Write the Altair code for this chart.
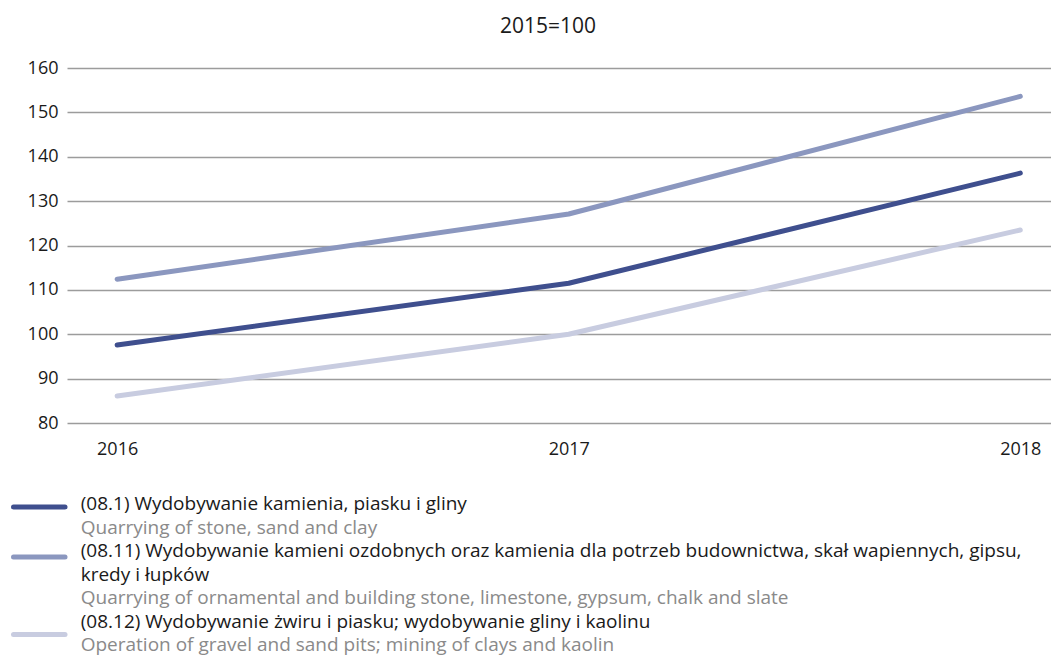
import altair as alt
import pandas as pd

years = [2016, 2017, 2018]
codes = ["08.1", "08.11", "08.12"]
series_values = {
    "08.1": [97.6, 111.5, 136.3],
    "08.11": [112.4, 127.1, 153.6],
    "08.12": [86.1, 100.0, 123.5],
}
labels_pl = [
    ["(08.1) Wydobywanie kamienia, piasku i gliny"],
    ["(08.11) Wydobywanie kamieni ozdobnych oraz kamienia dla potrzeb budownictwa, skał wapiennych, gipsu,",
     "kredy i łupków"],
    ["(08.12) Wydobywanie żwiru i piasku; wydobywanie gliny i kaolinu"],
]
labels_en = [
    "Quarrying of stone, sand and clay",
    "Quarrying of ornamental and building stone, limestone, gypsum, chalk and slate",
    "Operation of gravel and sand pits; mining of clays and kaolin",
]
colors = ["#3f4f8e", "#8b97bf", "#c8cce0"]
y_ticks = [80, 90, 100, 110, 120, 130, 140, 150, 160]
title_text = "2015=100"

FONT = "Open Sans"
BLACK = "#1a1a1a"
GREY = "#8a8a8a"

rows = []
for code in codes:
    for yr, v in zip(years, series_values[code]):
        rows.append({"code": code, "year": yr, "value": v})
df = pd.DataFrame(rows)

color_scale = alt.Scale(domain=codes, range=colors)

PLOT_W = 984
PLOT_H = 355

main = alt.Chart(df).mark_line(strokeWidth=5, strokeCap="round", strokeJoin="round").encode(
    x=alt.X("year:Q", scale=alt.Scale(domain=[2015.889, 2018.068], nice=False, zero=False),
            axis=alt.Axis(title=None, values=years, format="d", labelAngle=0, domain=False,
                          ticks=False, grid=False, labelFontSize=18, labelColor=BLACK,
                          labelPadding=17, labelFlush=False)),
    y=alt.Y("value:Q", scale=alt.Scale(domain=[80, 160], nice=False, zero=False),
            axis=alt.Axis(title=None, values=y_ticks, domain=False, ticks=False,
                          gridColor="#9c9c9c", gridWidth=1.3, labelFontSize=18,
                          labelColor=BLACK, labelPadding=9)),
    color=alt.Color("code:N", scale=color_scale, legend=None),
).properties(
    width=PLOT_W, height=PLOT_H,
    title=alt.TitleParams(title_text, fontSize=21, fontWeight="normal", color=BLACK,
                          anchor="middle", offset=22, dx=-11, font=FONT),
)

# legend table: one row per text line, one rule per series
ROW_H = 23.5
rule_shift = [-0.13, 0.0, 0.3]
leg_rows = []
rule_rows = []
r = 0
for i, code in enumerate(codes):
    first = r
    for line in labels_pl[i]:
        leg_rows.append({"row": r, "text": line, "tc": BLACK})
        r += 1
    leg_rows.append({"row": r, "text": labels_en[i], "tc": GREY})
    r += 1
    rule_rows.append({"code": code, "row": first + rule_shift[i]})
leg_df = pd.DataFrame(leg_rows)
rule_df = pd.DataFrame(rule_rows)
n_rows = r

yscale = alt.Scale(domain=[0, n_rows - 1], reverse=True, nice=False, zero=False)

leg_text = alt.Chart(leg_df).mark_text(align="left", baseline="alphabetic", fontSize=19, font=FONT).encode(
    x=alt.value(13.7),
    y=alt.Y("row:Q", scale=yscale, axis=None),
    text="text:N",
    color=alt.Color("tc:N", scale=None, legend=None),
)
leg_rule = alt.Chart(rule_df).mark_rule(strokeWidth=5, strokeCap="round").encode(
    x=alt.value(-53.5), x2=alt.value(-2),
    y=alt.Y("row:Q", scale=yscale, axis=None),
    color=alt.Color("code:N", scale=color_scale, legend=None),
)
legend = alt.layer(leg_rule, leg_text).properties(width=PLOT_W, height=ROW_H * (n_rows - 1))

chart = alt.vconcat(main, legend, spacing=37).properties(
    padding={"left": 3, "top": 8, "right": 0, "bottom": 4}
).configure(font=FONT).configure_view(stroke=None)

chart.save("out.html", embed_options={"renderer": "svg", "actions": False})
